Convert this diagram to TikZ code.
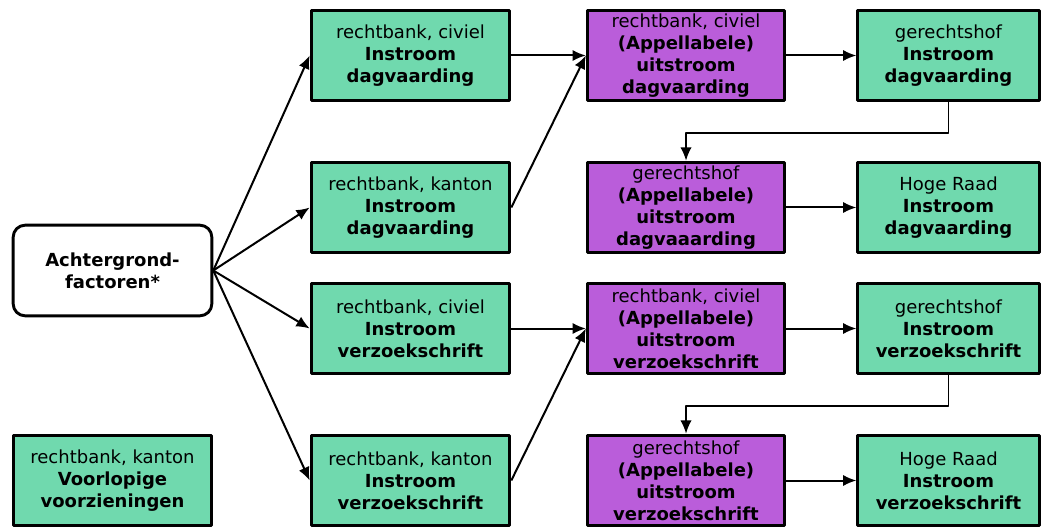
\documentclass[tikz,border=0pt]{standalone}
\usepackage{fontspec}
\setmainfont{DejaVu Sans}
\usetikzlibrary{arrows.meta}
\definecolor{groen}{RGB}{112,217,174}
\definecolor{paars}{RGB}{186,93,218}
\begin{document}
\begin{tikzpicture}[x=0.75pt,y=-0.75pt,line join=round,>={Latex[length=10pt,width=8.5pt]},font=\fontsize{13.5}{16.5}\selectfont]
\tikzset{every node/.style={align=center,inner sep=0pt},
	instroom/.style={draw,line width=2.2pt,fill=groen,minimum width=149pt,minimum height=68pt},
	uitstroom/.style={draw,line width=2.2pt,fill=paars,minimum width=148pt,minimum height=68pt},
	pijl/.style={->,line width=1.5pt}}
\useasboundingbox (0,0) rectangle (1042,527);
% links
\node[draw,line width=2.2pt,rounded corners=9pt,fill=white,minimum width=149pt,minimum height=68pt] (ach) at (112.5,270.5) {\textbf{Achtergrond-}\\\textbf{factoren*}};
\node[instroom] (vv) at (112.5,480.5) {rechtbank, kanton\\\textbf{Voorlopige}\\\textbf{voorzieningen}};
% instroom rechtbank
\node[instroom] (rcd) at (410.5,55.5) {rechtbank, civiel\\\textbf{Instroom}\\\textbf{dagvaarding}};
\node[instroom] (rkd) at (410.5,207.5) {rechtbank, kanton\\\textbf{Instroom}\\\textbf{dagvaarding}};
\node[instroom] (rcv) at (410.5,328.5) {rechtbank, civiel\\\textbf{Instroom}\\\textbf{verzoekschrift}};
\node[instroom] (rkv) at (410.5,480.5) {rechtbank, kanton\\\textbf{Instroom}\\\textbf{verzoekschrift}};
% uitstroom
\node[uitstroom] (urd) at (686,55.5) {rechtbank, civiel\\\textbf{(Appellabele)}\\\textbf{uitstroom}\\\textbf{dagvaarding}};
\node[uitstroom] (ugd) at (686,207.5) {gerechtshof\\\textbf{(Appellabele)}\\\textbf{uitstroom}\\\textbf{dagvaaarding}};
\node[uitstroom] (urv) at (686,328.5) {rechtbank, civiel\\\textbf{(Appellabele)}\\\textbf{uitstroom}\\\textbf{verzoekschrift}};
\node[uitstroom] (ugv) at (686,480.5) {gerechtshof\\\textbf{(Appellabele)}\\\textbf{uitstroom}\\\textbf{verzoekschrift}};
% hoger beroep
\node[instroom,minimum width=136pt] (gd) at (948.5,55.5) {gerechtshof\\\textbf{Instroom}\\\textbf{dagvaarding}};
\node[instroom,minimum width=136pt] (hd) at (948.5,207.5) {Hoge Raad\\\textbf{Instroom}\\\textbf{dagvaarding}};
\node[instroom,minimum width=136pt] (gv) at (948.5,328.5) {gerechtshof\\\textbf{Instroom}\\\textbf{verzoekschrift}};
\node[instroom,minimum width=136pt] (hv) at (948.5,480.5) {Hoge Raad\\\textbf{Instroom}\\\textbf{verzoekschrift}};
\foreach \n in {rcd,rkd,rcv,rkv}
\draw[pijl] (ach.east) -- (\n.west);
\draw[pijl] (rcd) -- (urd);
\draw[pijl] (rkd.east) -- (urd.west);
\draw[pijl] (rcv) -- (urv);
\draw[pijl] (rkv.east) -- (urv.west);
\foreach \a/\b in {urd/gd,ugd/hd,urv/gv,ugv/hv}
\draw[pijl] (\a) -- (\b);
\draw[pijl,line width=1.3pt] (gd.south) -- ++(0,31) -| (ugd.north);
\draw[pijl,line width=1.3pt] (gv.south) -- ++(0,31) -| (ugv.north);
\end{tikzpicture}
\end{document}
